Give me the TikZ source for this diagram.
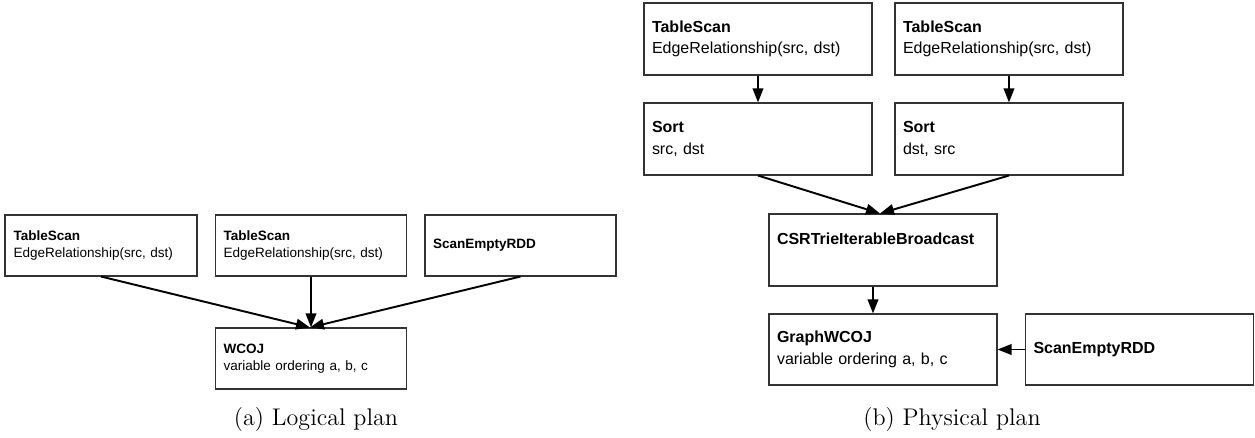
\documentclass[tikz,border=0pt]{standalone}
\usepackage{fontspec}
\newfontfamily\arial{Liberation Sans}
\usetikzlibrary{arrows.meta}

\tikzset{
  opbox/.style={draw=black!80, line width=0.6pt, rectangle, align=left, inner xsep=0.16cm, inner ysep=0pt},
  logop/.style={opbox, minimum height=1.22cm, text width=3.5cm, font=\arial\fontsize{7.7}{9.5}\selectfont},
  physop/.style={opbox, minimum height=1.44cm, text width=4.24cm, font=\arial\fontsize{9.1}{12.3}\selectfont},
  flow/.style={line width=1.1pt, -{Triangle[length=0.28cm,width=0.21cm]}},
  plancap/.style={font=\fontsize{13.7}{16}\selectfont}
}

\begin{document}
\begin{tikzpicture}
			\useasboundingbox (0, 0) rectangle (25.1, -8.76);
			
			%%%%% LOGICAL PLAN %%%%%
			
			\node[logop, minimum width=3.84cm] (scanA) at (2.02, -4.91) {\textbf{TableScan}\\EdgeRelationship(src, dst)};
			\node[logop, minimum width=3.80cm] (scanB) at (6.22, -4.91) {\textbf{TableScan}\\EdgeRelationship(src, dst)};
			\node[logop, minimum width=3.82cm] (emptyL) at (10.41, -4.91) {\textbf{ScanEmptyRDD}};
			\node[logop, minimum width=3.80cm] (wcoj) at (6.22, -7.17) {\textbf{WCOJ}\\variable ordering a, b, c};
			
			\draw[flow] (scanA.south) -- ([xshift=-0.02cm]wcoj.north);
			\draw[flow] (scanB.south) -- (wcoj.north);
			\draw[flow] (emptyL.south) -- ([xshift=-0.02cm]wcoj.north);
			
			\node[plancap] (capA) at (6.32, -8.38) {(a) Logical plan};
			
			%%%%% PHYSICAL PLAN %%%%%
			
			\node[physop, minimum width=4.56cm] (scanC) at (15.16, -0.78) {\textbf{TableScan}\\EdgeRelationship(src, dst)};
			\node[physop, minimum width=4.56cm] (scanD) at (20.18, -0.78) {\textbf{TableScan}\\EdgeRelationship(src, dst)};
			\node[physop, minimum width=4.56cm] (sortC) at (15.16, -2.78) {\textbf{Sort}\\src, dst};
			\node[physop, minimum width=4.56cm] (sortD) at (20.18, -2.78) {\textbf{Sort}\\dst, src};
			\node[physop, minimum width=4.56cm] (csr) at (17.66, -5.00) {\textbf{CSRTrieIterableBroadcast}\\~};
			\node[physop, minimum width=4.56cm, minimum height=1.42cm] (gwcoj) at (17.66, -6.99) {\textbf{GraphWCOJ}\\variable ordering a, b, c};
			\node[physop, minimum width=4.54cm, minimum height=1.42cm] (emptyR) at (22.79, -6.99) {\textbf{ScanEmptyRDD}};
			
			\draw[flow] (scanC.south) -- (sortC.north);
			\draw[flow] (scanD.south) -- (sortD.north);
			\draw[flow] (sortC.south) -- ([xshift=-0.06cm]csr.north);
			\draw[flow] (sortD.south) -- ([xshift=-0.06cm]csr.north);
			\draw[flow] ([xshift=-0.2cm]csr.south) -- ([xshift=-0.2cm]gwcoj.north);
			\draw[flow] (emptyR.west) -- (gwcoj.east);
			
			\node[plancap] (capB) at (19.04, -8.38) {(b) Physical plan};
			
			%%%%% END %%%%%
\end{tikzpicture}
\end{document}
